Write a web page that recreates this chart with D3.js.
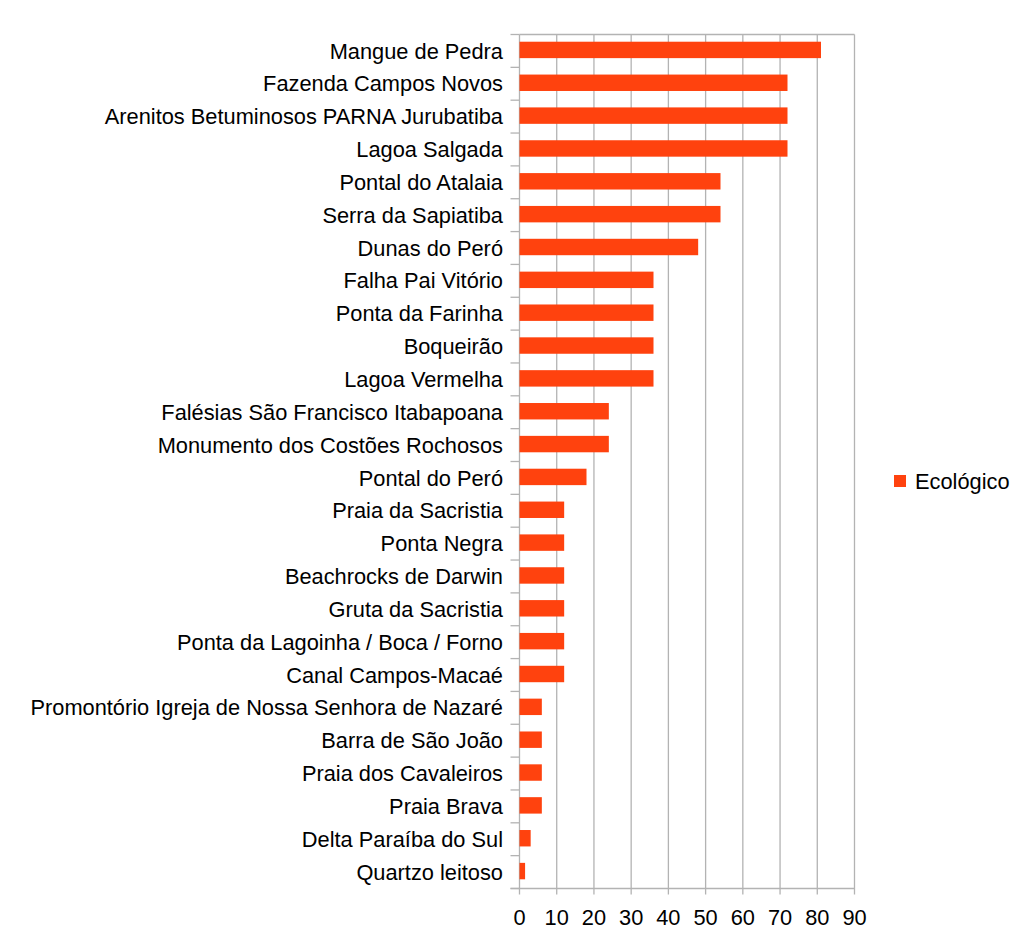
<!DOCTYPE html>
<html><head><meta charset="utf-8">
<script src="https://cdn.jsdelivr.net/npm/d3@7"></script>
<style>body{margin:0;background:#fff}svg{display:block}text{font-family:"Liberation Sans",Arial,sans-serif}</style>
</head><body><svg id="c" width="1017" height="942"></svg>
<script>
const categories = ["Mangue de Pedra","Fazenda Campos Novos","Arenitos Betuminosos PARNA Jurubatiba","Lagoa Salgada","Pontal do Atalaia","Serra da Sapiatiba","Dunas do Peró","Falha Pai Vitório","Ponta da Farinha","Boqueirão","Lagoa Vermelha","Falésias São Francisco Itabapoana","Monumento dos Costões Rochosos","Pontal do Peró","Praia da Sacristia","Ponta Negra","Beachrocks de Darwin","Gruta da Sacristia","Ponta da Lagoinha / Boca / Forno","Canal Campos-Macaé","Promontório Igreja de Nossa Senhora de Nazaré","Barra de São João","Praia dos Cavaleiros","Praia Brava","Delta Paraíba do Sul","Quartzo leitoso"];
const values = [81,72,72,72,54,54,48,36,36,36,36,24,24,18,12,12,12,12,12,12,6,6,6,6,3,1.5];
const xTicks = [0,10,20,30,40,50,60,70,80,90];
const seriesName = "Ecológico";

const svg = d3.select("#c");
const L = 519.5, R = 854.5, T = 34.5, B = 888.5;
const FS = 21.8;
const x = d3.scaleLinear().domain([0,90]).range([L,R]);
const y = d3.scaleBand().domain(categories).range([T,B]).paddingInner(0.5).paddingOuter(0.25);
const yb = d3.scaleBand().domain(categories).range([T,B]);
const grid = "#b3b3b3", col = "#ff420e";

// gridlines
svg.append("g").selectAll("line").data(xTicks).join("line")
  .attr("x1",d=>x(d)).attr("x2",d=>x(d)).attr("y1",T).attr("y2",B+6)
  .attr("stroke",grid).attr("stroke-width",1.3);
// top border
svg.append("line").attr("x1",L).attr("x2",R).attr("y1",T).attr("y2",T).attr("stroke",grid).attr("stroke-width",1.3);
// category ticks
const bounds = categories.map(c=>yb(c)).concat([B]);
svg.append("g").selectAll("line").data(bounds).join("line")
  .attr("x1",L-9).attr("x2",L).attr("y1",d=>d).attr("y2",d=>d)
  .attr("stroke",grid).attr("stroke-width",1.3);
// bottom axis line
svg.append("line").attr("x1",L-9).attr("x2",R).attr("y1",B).attr("y2",B).attr("stroke",grid).attr("stroke-width",1.3);

// bars
svg.append("g").selectAll("rect").data(values).join("rect")
  .attr("x",L).attr("y",(d,i)=>y(categories[i])-1)
  .attr("width",d=>x(d)-L).attr("height",y.bandwidth())
  .attr("fill",col);

// category labels
svg.append("g").selectAll("text").data(categories).join("text")
  .attr("x",503).attr("y",d=>yb(d)+yb.bandwidth()/2+7.6)
  .attr("text-anchor","end")
  .attr("font-size",FS).attr("fill","#000").text(d=>d);

// x tick labels
svg.append("g").selectAll("text").data(xTicks).join("text")
  .attr("x",d=>x(d)).attr("y",925).attr("text-anchor","middle")
  .attr("font-size",FS).attr("fill","#000").text(d=>d);

// legend
svg.append("rect").attr("x",894).attr("y",475).attr("width",12).attr("height",12).attr("fill",col);
svg.append("text").attr("x",915).attr("y",488.5).attr("font-size",FS).attr("fill","#000").text(seriesName);
</script></body></html>
